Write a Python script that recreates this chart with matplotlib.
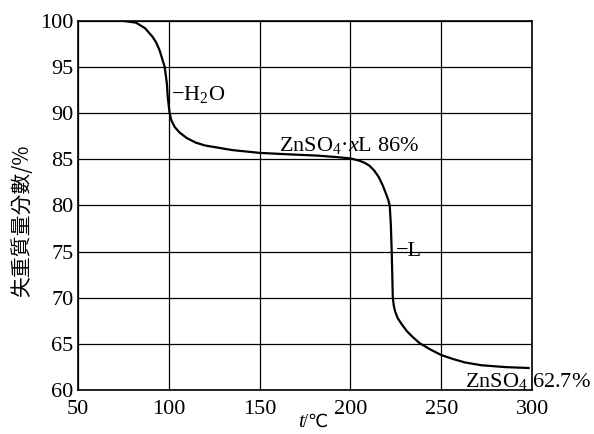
import matplotlib
matplotlib.use("Agg")
import matplotlib.pyplot as plt

plt.rcParams['font.family'] = ['Liberation Serif', 'DejaVu Serif']
plt.rcParams['mathtext.fontset'] = 'custom'
plt.rcParams['mathtext.rm'] = 'Liberation Serif'
plt.rcParams['mathtext.it'] = 'Liberation Serif:italic'

# temperature (degC) and remaining mass (%)
temp = [50, 70, 75, 82, 87, 91, 93, 95, 97.8, 99, 99.5, 100.5, 101.5, 103.3,
        106, 110, 115, 120, 126, 135, 150, 165, 182, 192, 200, 205, 208,
        210.5, 213, 215.5, 217.7, 219.5, 220.8, 221.6, 222.2, 222.7, 223.0,
        223.3, 223.8, 224.6, 226, 228, 231, 234, 238, 244, 250, 256, 263,
        272, 285, 298]
mass = [100, 100, 100, 99.8, 99.2, 98.3, 97.7, 96.8, 95.0, 93.2, 91.7, 90.0,
        89.2, 88.5, 87.9, 87.3, 86.8, 86.5, 86.3, 86.0, 85.7, 85.55, 85.4,
        85.25, 85.1, 84.85, 84.6, 84.3, 83.8, 83.1, 82.2, 81.3, 80.6, 80.0,
        78.0, 75.0, 72.5, 70.0, 69.2, 68.5, 67.8, 67.2, 66.4, 65.8, 65.1,
        64.4, 63.8, 63.4, 63.0, 62.7, 62.5, 62.4]

xticks = [50, 100, 150, 200, 250, 300]
yticks = [60, 65, 70, 75, 80, 85, 90, 95, 100]

fig = plt.figure(figsize=(5.94, 4.34), dpi=100)
ax = fig.add_axes([0.131, 0.101, 0.765, 0.851])

ax.plot(temp, mass, color='black', lw=1.6)

ax.set_xlim(50, 300)
ax.set_ylim(60, 100)
ax.set_xticks(xticks)
ax.set_yticks(yticks)
ax.grid(True, color='black', lw=0.9)
ax.tick_params(length=0, labelsize=16)
ax.tick_params(axis='x', pad=7)
ax.tick_params(axis='y', pad=3)
for s in ax.spines.values():
    s.set_linewidth(1.2)

ax.set_ylabel('失重質量分數/%', fontsize=15, family=['Noto Sans CJK TC', 'DejaVu Sans'],
              labelpad=5, y=0.46)

# x label: italic t followed by /℃
t_lbl = ax.text(0.49, -0.088, 't', transform=ax.transAxes, fontsize=15,
                style='italic', ha='center', va='center')
ax.annotate('/℃', xy=(1, 0.05), xycoords=t_lbl, fontsize=13, ha='left', va='bottom',
            family=['Liberation Serif', 'DejaVu Sans'])

ax.text(101.5, 92, '−H$_2$O', fontsize=16, va='center', ha='left')
ax.text(160.5, 86.5, 'ZnSO$_4$·$x$L 86%', fontsize=16, va='center', ha='left')
ax.text(225, 75, '−L', fontsize=16, va='center', ha='left')
ax.text(263, 60.9, 'ZnSO$_4$ 62.7%', fontsize=16, va='center', ha='left',
        clip_on=False)

fig.savefig('out.png', dpi=100)
